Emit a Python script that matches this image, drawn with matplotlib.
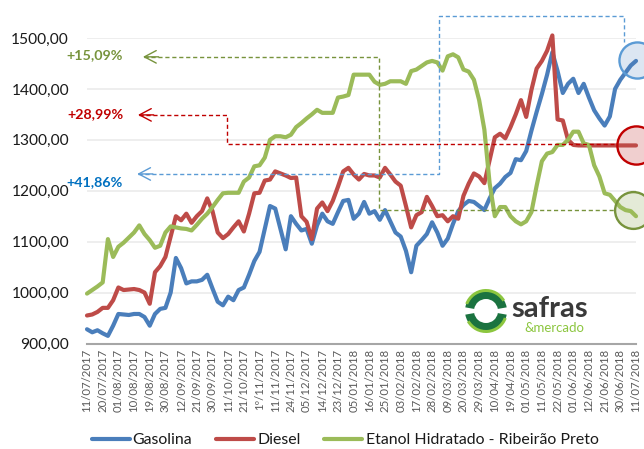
import numpy as np
import matplotlib
matplotlib.use("Agg")
import matplotlib.pyplot as plt
from matplotlib.patches import Wedge

plt.rcParams['font.family'] = ['Lato', 'DejaVu Sans']

# ---------------- data ----------------
tick_labels = ["11/07/2017", "20/07/2017", "01/08/2017", "10/08/2017", "19/08/2017",
               "30/08/2017", "12/09/2017", "21/09/2017", "30/09/2017", "11/10/2017",
               "21/10/2017", "1º/11/2017", "11/11/2017", "24/11/2017", "05/12/2017",
               "14/12/2017", "23/12/2017", "05/01/2018", "16/01/2018", "25/01/2018",
               "03/02/2018", "17/02/2018", "28/02/2018", "09/03/2018", "20/03/2018",
               "29/03/2018", "10/04/2018", "19/04/2018", "01/05/2018", "11/05/2018",
               "22/05/2018", "01/06/2018", "12/06/2018", "21/06/2018", "30/06/2018",
               "11/07/2018"]

gasolina = [928, 922, 926, 920, 915, 935, 958, 957, 956, 958,
            958, 952, 935, 958, 968, 970, 1000, 1068, 1048, 1018,
            1022, 1022, 1025, 1035, 1008, 982, 975, 992, 985, 1005,
            1010, 1035, 1062, 1080, 1125, 1170, 1165, 1125, 1085, 1150,
            1135, 1122, 1125, 1096, 1132, 1155, 1140, 1135, 1158, 1180,
            1182, 1145, 1155, 1178, 1155, 1160, 1143, 1162, 1140, 1118,
            1110, 1082, 1040, 1092, 1103, 1115, 1138, 1118, 1092, 1106,
            1135, 1160, 1172, 1180, 1178, 1170, 1162, 1185, 1205, 1214,
            1227, 1235, 1262, 1260, 1278, 1318, 1355, 1390, 1428, 1472,
            1435, 1392, 1410, 1420, 1392, 1410, 1383, 1358, 1342, 1328,
            1346, 1400, 1418, 1432, 1446, 1455]

diesel = [955, 957, 962, 970, 970, 985, 1010, 1005, 1006, 1007,
          1005, 1000, 978, 1040, 1052, 1070, 1110, 1150, 1142, 1155,
          1137, 1150, 1160, 1185, 1160, 1118, 1107, 1115, 1128, 1140,
          1120, 1155, 1195, 1196, 1220, 1222, 1238, 1234, 1230, 1225,
          1226, 1150, 1139, 1105, 1165, 1177, 1160, 1180, 1208, 1238,
          1245, 1232, 1222, 1233, 1230, 1230, 1226, 1245, 1232, 1218,
          1210, 1170, 1128, 1152, 1158, 1188, 1170, 1150, 1152, 1140,
          1150, 1145, 1190, 1214, 1234, 1228, 1215, 1260, 1305, 1312,
          1303, 1325, 1350, 1378, 1345, 1398, 1440, 1455, 1475, 1505,
          1340, 1338, 1300, 1290, 1289, 1289, 1289, 1289, 1289, 1289,
          1289, 1289, 1289, 1289, 1289, 1289]

etanol = [998, 1005, 1012, 1020, 1105, 1070, 1090, 1098, 1108, 1118,
          1132, 1115, 1103, 1088, 1092, 1118, 1130, 1128, 1126, 1125,
          1122, 1133, 1145, 1155, 1168, 1182, 1195, 1196, 1196, 1196,
          1218, 1226, 1248, 1250, 1265, 1300, 1307, 1307, 1305, 1310,
          1325, 1333, 1342, 1350, 1359, 1353, 1353, 1353, 1383, 1385,
          1388, 1428, 1428, 1428, 1428, 1414, 1408, 1410, 1415, 1415,
          1415, 1410, 1435, 1438, 1445, 1452, 1455, 1452, 1436, 1464,
          1468, 1462, 1438, 1434, 1418, 1378, 1320, 1215, 1150, 1168,
          1168, 1150, 1140, 1134, 1140, 1158, 1210, 1258, 1273, 1276,
          1290, 1290, 1300, 1316, 1316, 1293, 1290, 1250, 1228, 1195,
          1192, 1180, 1168, 1162, 1160, 1150]

series_names = ["Gasolina", "Diesel", "Etanol Hidratado - Ribeirão Preto"]
series_colors = ["#4A7EBB", "#BE4B48", "#9BBB59"]
yticks = [900, 1000, 1100, 1200, 1300, 1400, 1500]
pct_labels = ["+15,09%", "+28,99%", "+41,86%"]

# ---------------- figure ----------------
W, H = 644, 449
fig = plt.figure(figsize=(W / 100, H / 100), dpi=100)
fig.patch.set_facecolor("white")
L, R, T, B = 87, 636, 38, 343.5
ax = fig.add_axes([L / W, (H - B) / H, (R - L) / W, (B - T) / H])

x = np.arange(len(gasolina))
lines = []
for vals, name, col in zip([gasolina, diesel, etanol], series_names, series_colors):
    ln, = ax.plot(x, vals, color=col, lw=3.0, label=name, zorder=2,
                  solid_joinstyle="round", solid_capstyle="round", clip_on=False)
    lines.append(ln)

ax.set_xlim(0, len(gasolina) - 1)
ax.set_ylim(900, 1500)
ax.set_yticks(yticks)
ax.set_yticklabels([f"{v},00" for v in yticks])
ax.set_xticks(x[::3])
ax.set_xticklabels(tick_labels, rotation=90, fontsize=8.2, color="#595959")
ax.tick_params(axis="y", length=0, pad=13, labelsize=11.2, labelcolor="#1a1a1a")
ax.tick_params(axis="x", length=0, pad=4)
ax.grid(axis="y", color="#EBEBEB", lw=1.2, zorder=0)
ax.set_axisbelow(True)
for s in ["top", "right", "left"]:
    ax.spines[s].set_visible(False)
ax.spines["bottom"].set_color("#A6A6A6")
ax.spines["bottom"].set_linewidth(1.5)

# ---------------- annotations ----------------
dash = dict(lw=1.0, zorder=3, clip_on=False, dashes=(3, 2))
gcol = "#77933C"
ax.plot([10.9, 55.9, 55.9, 101.0], [1463, 1463, 1162, 1162], color=gcol, **dash)
rcol = "#C00000"
ax.plot([9.9, 26.8, 26.8, 100.8], [1349, 1349, 1291, 1291], color=rcol, **dash)
bcol = "#5B9BD5"
ax.plot([9.8, 67.4, 67.4, 102.7, 102.7], [1233, 1233, 1543, 1543, 1492], color=bcol, **dash)

for (xt, yt, col) in [(10.7, 1463, gcol), (9.75, 1349, rcol), (9.6, 1233, bcol)]:
    ax.annotate("", xy=(xt, yt), xytext=(xt + 3.0, yt),
                arrowprops=dict(arrowstyle="->,head_length=0.85,head_width=0.45",
                                color=col, lw=1.0, shrinkA=0, shrinkB=0),
                annotation_clip=False, zorder=3)

ax.text(6.9, 1466, pct_labels[0], color=gcol, fontsize=10.3, fontweight="bold",
        ha="right", va="center", clip_on=False)
ax.text(6.9, 1351, pct_labels[1], color=rcol, fontsize=10.3, fontweight="bold",
        ha="right", va="center", clip_on=False)
ax.text(6.9, 1218, pct_labels[2], color="#0070C0", fontsize=10.3, fontweight="bold",
        ha="right", va="center", clip_on=False)

circ = [(105.2, 1457, "#DCE6F2", bcol, 26), (105.0, 1290, "#F0CFCF", rcol, 27.5),
        (104.4, 1162, "#E4EAD7", gcol, 26.5)]
for cx, cy, fc, ec, ms in circ:
    ax.plot([cx], [cy], marker="o", ms=ms, mfc=fc, mew=0, ls="none", zorder=1.8, clip_on=False)
    ax.plot([cx], [cy], marker="o", ms=ms, mfc="none", mec=ec, mew=1.7, ls="none",
            zorder=4, clip_on=False)

# ---------------- legend ----------------
fig.legend(handles=lines, loc="center", bbox_to_anchor=(345 / W, 1 - 440 / H), ncol=3,
           frameon=False, fontsize=11.4, handlelength=2.4, handletextpad=0.2,
           columnspacing=1.5, labelcolor="#1a1a1a")

# ---------------- logo ----------------
lax = fig.add_axes([0, 0, 1, 1], zorder=5)
lax.set_xlim(0, W)
lax.set_ylim(H, 0)
lax.set_axis_off()
lax.patch.set_alpha(0)
cx, cy, r = 486, 311, 21
lax.add_patch(Wedge((cx, cy), r, 190, 350, width=9, facecolor="#1B7340", edgecolor="none"))
lax.add_patch(Wedge((cx, cy), r, 10, 170, width=9, facecolor="#1B7340", edgecolor="none"))
lax.add_patch(Wedge((cx, cy), r + 1, 200, 330, width=3, facecolor="#8CC63F", edgecolor="none"))
lax.add_patch(Wedge((cx, cy), r + 1, 20, 150, width=3, facecolor="#8CC63F", edgecolor="none"))
lax.text(511, 309, "safras", fontsize=21, color="#3A3A3A", ha="left", va="center",
         fontweight="bold")
lax.text(524, 327.5, "&mercado", fontsize=9.5, color="#8CC63F", ha="left", va="center")

fig.savefig("out.png", dpi=100, facecolor="white")
